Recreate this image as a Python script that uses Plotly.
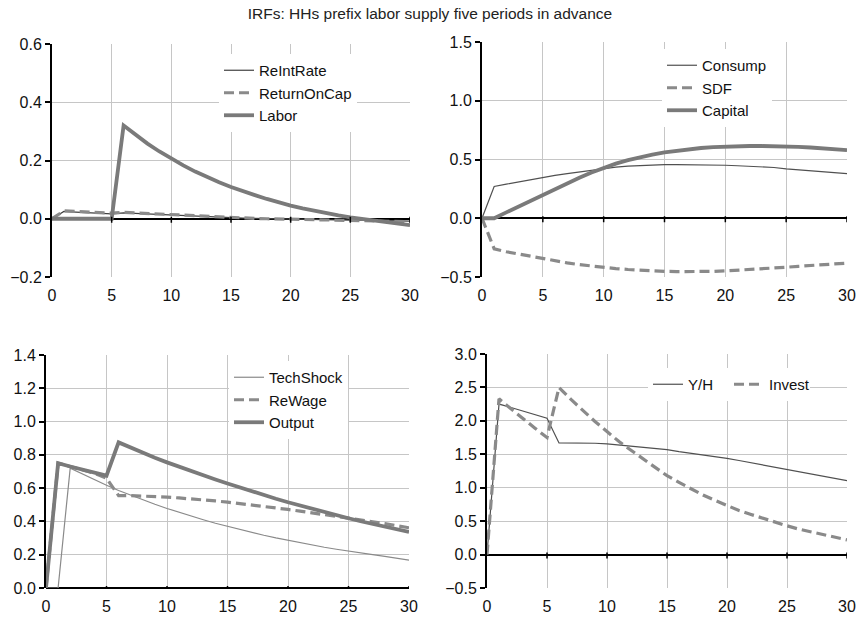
import plotly.graph_objects as go

# ---------------- data ----------------
periods = list(range(31))

rel_int_rate = [0, 0.025, 0.023, 0.021, 0.019, 0.017, 0.020, 0.018, 0.016, 0.014, 0.012,
                0.010, 0.008, 0.006, 0.005, 0.003, 0.002, 0.001, 0.000, -0.001, -0.002,
                -0.002, -0.003, -0.004, -0.004, -0.005, -0.005, -0.006, -0.006, -0.007, -0.008]
return_on_cap = [0, 0.027, 0.025, 0.023, 0.021, 0.019, 0.022, 0.020, 0.018, 0.016, 0.013,
                 0.011, 0.009, 0.007, 0.005, 0.004, 0.002, 0.001, 0.000, -0.001, -0.002,
                 -0.003, -0.004, -0.004, -0.005, -0.005, -0.006, -0.007, -0.008, -0.009, -0.010]
labor = [0, 0, 0, 0, 0, 0, 0.320, 0.288, 0.258, 0.231, 0.206,
         0.183, 0.162, 0.143, 0.125, 0.109, 0.094, 0.081, 0.068, 0.056, 0.045,
         0.036, 0.027, 0.019, 0.012, 0.005, -0.001, -0.007, -0.012, -0.017, -0.022]

consump = [0, 0.27, 0.29, 0.31, 0.33, 0.35, 0.365, 0.38, 0.395, 0.41, 0.425,
           0.435, 0.443, 0.449, 0.453, 0.456, 0.457, 0.457, 0.456, 0.454, 0.451,
           0.447, 0.443, 0.438, 0.432, 0.42, 0.413, 0.405, 0.397, 0.389, 0.38]
sdf = [0, -0.26, -0.285, -0.305, -0.325, -0.345, -0.365, -0.38, -0.395, -0.408, -0.418,
       -0.428, -0.436, -0.443, -0.448, -0.452, -0.454, -0.455, -0.454, -0.452, -0.448,
       -0.443, -0.437, -0.431, -0.424, -0.417, -0.409, -0.401, -0.394, -0.388, -0.382]
capital = [0, 0, 0.05, 0.10, 0.15, 0.20, 0.245, 0.295, 0.345, 0.39, 0.43,
           0.465, 0.495, 0.52, 0.542, 0.56, 0.575, 0.588, 0.598, 0.605, 0.61,
           0.613, 0.615, 0.615, 0.614, 0.611, 0.607, 0.602, 0.596, 0.589, 0.58]

tech_shock = [0, 0, 0.72, 0.684, 0.65, 0.617, 0.586, 0.557, 0.529, 0.503, 0.478,
              0.454, 0.431, 0.41, 0.389, 0.37, 0.351, 0.334, 0.317, 0.301, 0.286,
              0.272, 0.258, 0.245, 0.233, 0.221, 0.21, 0.2, 0.19, 0.18, 0.168]
re_wage = [0, 0.75, 0.73, 0.71, 0.69, 0.66, 0.555, 0.555, 0.553, 0.55, 0.546,
           0.541, 0.536, 0.53, 0.523, 0.516, 0.508, 0.5, 0.491, 0.482, 0.472,
           0.462, 0.452, 0.441, 0.43, 0.42, 0.409, 0.398, 0.387, 0.376, 0.362]
output = [0, 0.75, 0.73, 0.71, 0.69, 0.675, 0.875, 0.842, 0.811, 0.782, 0.755,
          0.728, 0.702, 0.677, 0.652, 0.628, 0.604, 0.581, 0.558, 0.536, 0.515,
          0.495, 0.475, 0.456, 0.437, 0.419, 0.401, 0.384, 0.368, 0.352, 0.337]

y_per_h = [0, 2.25, 2.2, 2.15, 2.1, 2.04, 1.67, 1.672, 1.67, 1.665, 1.655,
           1.64, 1.625, 1.61, 1.59, 1.57, 1.54, 1.516, 1.491, 1.466, 1.44,
           1.407, 1.373, 1.339, 1.305, 1.27, 1.237, 1.204, 1.171, 1.138, 1.105]
invest = [0, 2.33, 2.18, 2.03, 1.89, 1.75, 2.5, 2.32, 2.15, 1.99, 1.84,
          1.69, 1.56, 1.43, 1.3, 1.18, 1.08, 0.98, 0.89, 0.81, 0.73,
          0.66, 0.6, 0.54, 0.48, 0.43, 0.38, 0.34, 0.3, 0.26, 0.22]

x_ticks = [0, 5, 10, 15, 20, 25, 30]
y_ranges = [[-0.2, 0.6], [-0.5, 1.5], [0.0, 1.4], [-0.5, 3.0]]
y_dticks = [0.2, 0.5, 0.2, 0.5]

title = "IRFs: HHs prefix labor supply five periods in advance"

# ---------------- styling ----------------
FONT = "Liberation Sans, Arial, sans-serif"
W, H = 860, 623
THIN = dict(width=1.2)
DASH = dict(width=3.2, dash="10px,5px", color="#8a8a8a")
THICK = dict(width=3.8, color="#7a7a7a")
GRID = "#c6c6c6"

# panel pixel boxes: (left, right, top, bottom)
boxes = [(52, 410, 44, 277), (482, 847, 42, 277), (46, 409, 355, 588), (487, 847, 354, 588)]

fig = go.Figure()

panels = [
    [("ReIntRate", rel_int_rate, dict(THIN, color="#404040")),
     ("ReturnOnCap", return_on_cap, DASH),
     ("Labor", labor, THICK)],
    [("Consump", consump, dict(THIN, color="#505050")),
     ("SDF", sdf, DASH),
     ("Capital", capital, THICK)],
    [("TechShock", tech_shock, dict(THIN, color="#8a8a8a")),
     ("ReWage", re_wage, DASH),
     ("Output", output, THICK)],
    [("Y/H", y_per_h, dict(THIN, color="#505050")),
     ("Invest", invest, DASH)],
]

legend_pos = [(219, 54, "v"), (662, 49, "v"), (229, 361, "v"), (648, 368, "h")]

for i, (series, box) in enumerate(zip(panels, boxes)):
    n = i + 1
    xa = "x" if n == 1 else f"x{n}"
    ya = "y" if n == 1 else f"y{n}"
    lg = "legend" if n == 1 else f"legend{n}"
    for name, vals, line in series:
        fig.add_trace(go.Scatter(x=periods, y=vals, name=name, mode="lines",
                                 line=line, xaxis=xa, yaxis=ya, legend=lg))
    l, r, t, b = box
    xkey = "xaxis" if n == 1 else f"xaxis{n}"
    ykey = "yaxis" if n == 1 else f"yaxis{n}"
    fig.layout[xkey] = dict(
        domain=[l / W, r / W], anchor=ya, range=[0, 30], tickvals=x_ticks,
        showgrid=True, gridcolor=GRID, gridwidth=1, zeroline=False,
        showline=False, ticks="", tickfont=dict(size=16, color="#111", family=FONT),
        ticklabelstandoff=7, fixedrange=True, automargin=False,
    )
    fig.layout[ykey] = dict(
        domain=[1 - b / H, 1 - t / H], anchor=xa, range=y_ranges[i], dtick=y_dticks[i],
        tick0=0, tickformat=".1f", showgrid=True, gridcolor=GRID, gridwidth=1,
        zeroline=True, zerolinecolor="#000", zerolinewidth=2,
        showline=True, linecolor="#000", linewidth=2, ticks="outside", ticklen=5,
        tickwidth=1.5, tickcolor="#000",
        tickfont=dict(size=16, color="#111", family=FONT), fixedrange=True,
        automargin=False,
    )
    # tick marks on the zero line
    for xv in x_ticks[1:]:
        fig.add_shape(type="line", xref=xa, yref=ya, x0=xv, x1=xv, ysizemode="pixel",
                      yanchor=0, y0=-4, y1=2, line=dict(color="#000", width=1.5))
    lx, ly, orient = legend_pos[i]
    leg = dict(
        x=lx / W, y=1 - ly / H, xanchor="left", yanchor="top", orientation=orient,
        bgcolor="#fff", borderwidth=0, font=dict(size=15, color="#111", family=FONT),
        tracegroupgap=0, itemwidth=30,
    )
    if orient == "h":
        leg["entrywidth"] = 36
        leg["entrywidthmode"] = "pixels"
    fig.layout[lg] = leg

fig.update_layout(
    width=W, height=H, margin=dict(l=0, r=0, t=0, b=0, autoexpand=False),
    paper_bgcolor="#fff", plot_bgcolor="#fff",
    font=dict(family=FONT, size=15, color="#111"),
    title=dict(text=title, x=0.5, xanchor="center", y=1 - 14 / H, yanchor="middle",
               font=dict(size=15.5, color="#222", family=FONT), automargin=False),
    showlegend=True,
)

fig.write_html("out.html", config={"displayModeBar": False},
               post_script="document.body.style.margin='0';document.body.style.overflow='hidden';")
